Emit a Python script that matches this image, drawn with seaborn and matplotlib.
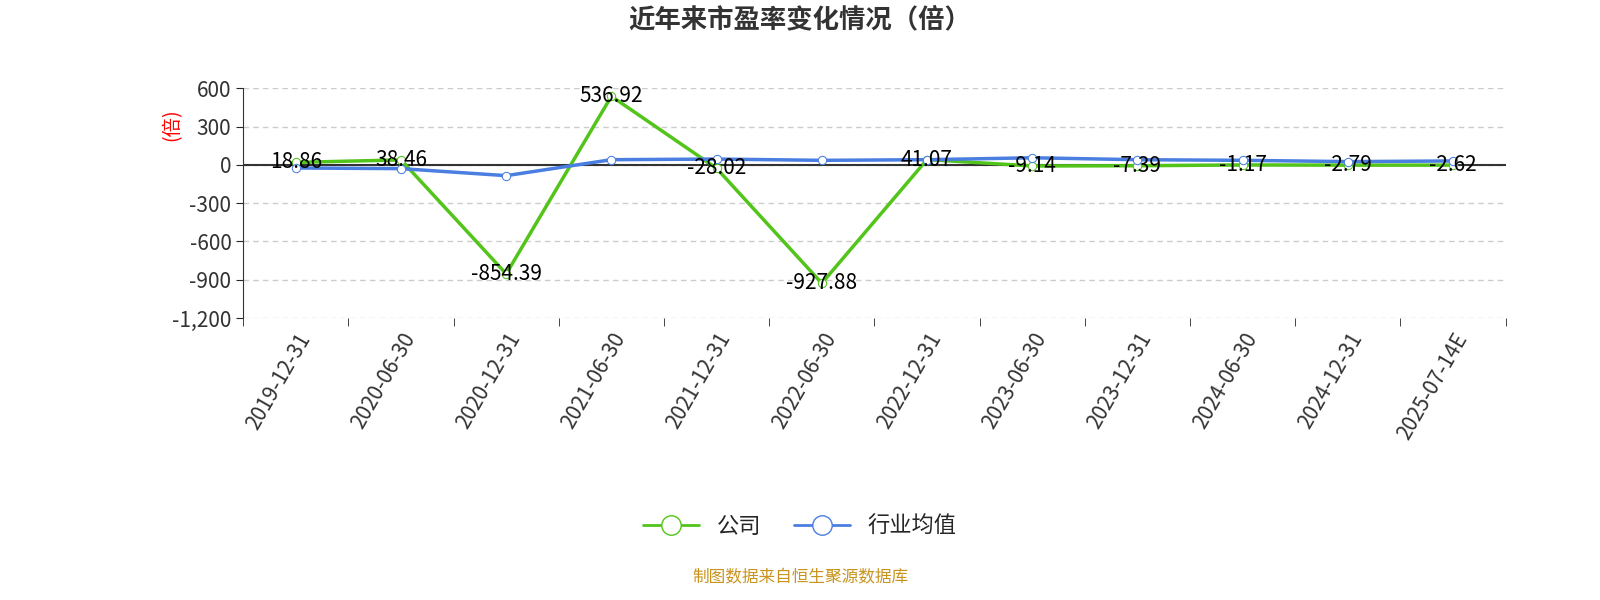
import numpy as np
import pandas as pd
import seaborn as sns
from matplotlib import pyplot as plt
from matplotlib.lines import Line2D
from matplotlib.ticker import FuncFormatter

# chart data
dates = ["2019-12-31", "2020-06-30", "2020-12-31", "2021-06-30", "2021-12-31", "2022-06-30",
         "2022-12-31", "2023-06-30", "2023-12-31", "2024-06-30", "2024-12-31", "2025-07-14E"]
company = [18.86, 38.46, -854.39, 536.92, -28.02, -927.88, 41.07, -9.14, -7.39, -1.17, -2.79, -2.62]
industry = [-25, -30, -85, 40, 45, 35, 40, 55, 40, 35, 25, 30]

GREEN = "#52c41a"
BLUE = "#4a7ee0"

sns.set_style("white")
plt.rcParams['font.family'] = ['Noto Sans CJK SC', 'DejaVu Sans']

df = pd.DataFrame({"date": dates, "公司": company, "行业均值": industry})
df["x"] = np.arange(len(dates))

fig = plt.figure(figsize=(16, 6), dpi=100)
ax = fig.add_axes([0.152, 0.47, 0.789, 0.383])

sns.lineplot(data=df, x="x", y="公司", color=GREEN, lw=2.5, marker="o", markersize=6,
             markerfacecolor="white", markeredgecolor=GREEN, ax=ax, zorder=3)
sns.lineplot(data=df, x="x", y="行业均值", color=BLUE, lw=2.5, marker="o", markersize=6,
             markerfacecolor="white", markeredgecolor=BLUE, ax=ax, zorder=4)

for xi, v in zip(df["x"], company):
    ax.text(xi, v, f"{v:.2f}", ha="center", va="center", fontsize=15, color="black", zorder=5)

ax.set_xlim(-0.5, len(dates) - 0.5)
ax.set_ylim(-1200, 600)
ax.set_yticks(np.arange(-1200, 601, 300))
ax.yaxis.set_major_formatter(FuncFormatter(lambda v, p: f"{int(v):,}"))
ax.set_xticks(df["x"])
ax.set_xticklabels(dates, rotation=60, ha="right", rotation_mode="anchor", fontsize=15, color="#333333")
ax.tick_params(axis="y", labelsize=15, labelcolor="#333333", length=5, left=True)
ax.tick_params(axis="x", length=0, pad=8)
ax.set_xticks(np.arange(-0.5, len(dates), 1), minor=True)
ax.tick_params(axis="x", which="minor", length=6, bottom=True)
ax.grid(axis="y", ls=(0, (4, 3)), color="#cccccc", lw=1)
for s in ["top", "right", "bottom"]:
    ax.spines[s].set_visible(False)
ax.spines["left"].set_color("#333333")
ax.axhline(0, color="#333333", lw=1.5, zorder=2)
ax.set_xlabel("")
ax.set_ylabel("(倍)", color="red", fontsize=14)
ax.yaxis.set_label_coords(-0.048, 0.84)

fig.text(0.5, 0.955, "近年来市盈率变化情况（倍）", ha="center", fontsize=19, fontweight="bold", color="#333333")

handles = [Line2D([0], [0], color=GREEN, lw=2, marker="o", markersize=14, markerfacecolor="white"),
           Line2D([0], [0], color=BLUE, lw=2, marker="o", markersize=14, markerfacecolor="white")]
fig.legend(handles, ["公司", "行业均值"], loc="center", bbox_to_anchor=(0.5, 0.123), ncol=2,
           frameon=False, fontsize=16, handlelength=2.5, columnspacing=1.5)
fig.text(0.5, 0.03, "制图数据来自恒生聚源数据库", ha="center", fontsize=12, color="#c8941e")

fig.savefig("out.png", dpi=100)
